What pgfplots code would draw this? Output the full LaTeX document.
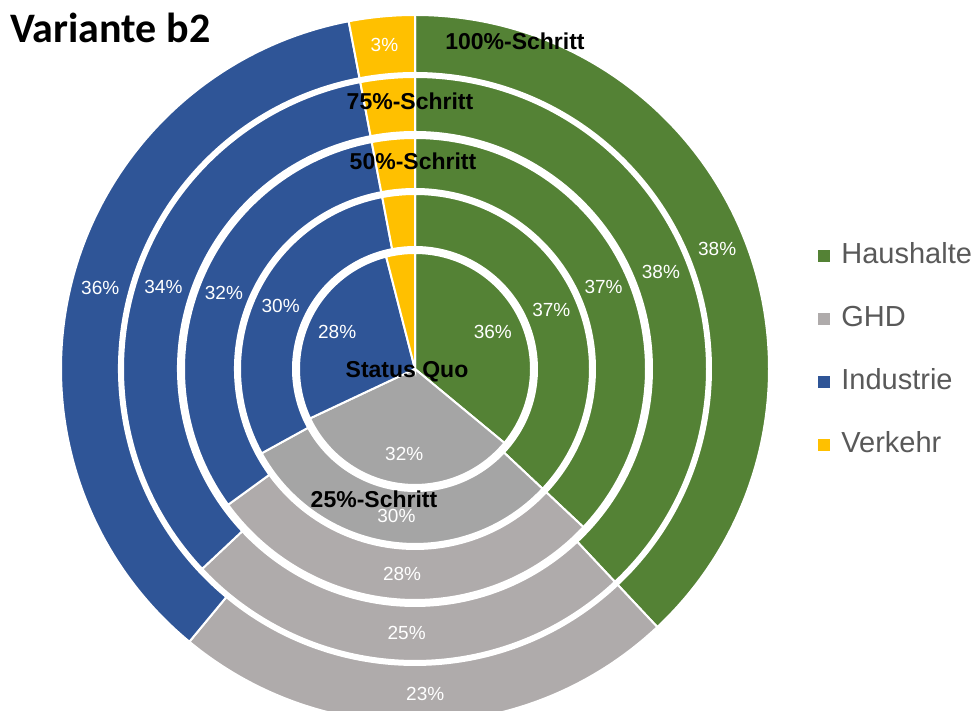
\documentclass[border=0pt]{standalone}
\usepackage{pgfplots}
\usepackage{pgfplotstable}
\pgfplotsset{compat=1.18}
\usepackage{fontspec}
\setmainfont{Liberation Sans}
\newfontfamily\titlefont{Carlito}
\definecolor{colH}{HTML}{548235}
\definecolor{colG}{HTML}{AFABAB}
\definecolor{colGd}{HTML}{A5A5A5}
\definecolor{colI}{HTML}{2F5597}
\definecolor{colV}{HTML}{FFC000}
\definecolor{legtext}{HTML}{595959}

% shares in percent, one row per ring (inner to outer); radii in px
\pgfplotstableread{
ring Haushalte GHD Industrie Verkehr rin rout rlab
0 36 32 28 4 0 116 86
1 37 30 30 3 122 175 148.5
2 37 28 32 3 180 231 205.5
3 38 25 34 3 237 292 264.5
4 38 23 36 3 296 354 325
}\ringdata

\begin{document}
\begin{tikzpicture}
\begin{axis}[x=0.5pt, y=0.5pt, xmin=-415, xmax=561, ymin=-342, ymax=369,
  hide axis, clip=false,
  legend cell align=left,
  legend image code/.code={\fill[#1] (0pt,-3pt) rectangle (6pt,3pt);},
  legend style={draw=none, fill=none, inner sep=0pt, at={(axis cs:403,127)}, anchor=north west,
    font=\fontsize{14.5}{17}\selectfont, text=legtext, row sep=18pt, column sep=5.5pt,
    nodes={inner sep=0pt, text height=10.5pt, text depth=3pt}},
]
\addlegendimage{fill=colH, draw=none}\addlegendentry{Haushalte}
\addlegendimage{fill=colG, draw=none}\addlegendentry{GHD}
\addlegendimage{fill=colI, draw=none}\addlegendentry{Industrie}
\addlegendimage{fill=colV, draw=none}\addlegendentry{Verkehr}

\pgfplotsextra{
\foreach \i in {0,...,4}{
  \pgfplotstablegetelem{\i}{rin}\of\ringdata \let\rin\pgfplotsretval
  \pgfplotstablegetelem{\i}{rout}\of\ringdata \let\rout\pgfplotsretval
  \pgfplotstablegetelem{\i}{rlab}\of\ringdata \let\rlab\pgfplotsretval
  \gdef\cum{0}
  \foreach \c/\col/\j in {Haushalte/colH/0, GHD/colG/1, Industrie/colI/2, Verkehr/colV/3}{
    \pgfplotstablegetelem{\i}{\c}\of\ringdata \let\val\pgfplotsretval
    \def\fc{\col}
    \ifnum\i<2 \ifnum\j=1 \def\fc{colGd}\fi\fi
    \pgfmathsetmacro\aS{90-3.6*\cum}
    \pgfmathsetmacro\aE{90-3.6*(\cum+\val)}
    \pgfmathsetmacro\aM{90-3.6*(\cum+\val/2)}
    \pgfmathsetmacro\xa{\rout*cos(\aS)}
    \pgfmathsetmacro\ya{\rout*sin(\aS)}
    \pgfmathsetmacro\xb{\rin*cos(\aE)}
    \pgfmathsetmacro\yb{\rin*sin(\aE)}
    \pgfmathsetmacro\Ro{\rout*0.5}
    \pgfmathsetmacro\Ri{\rin*0.5}
    \pgfmathsetmacro\xl{\rlab*cos(\aM)}
    \pgfmathsetmacro\yl{\rlab*sin(\aM)}
    \ifnum\i=0
      \fill[\fc, draw=white, line width=1pt] (axis cs:\xa,\ya) arc[start angle=\aS, end angle=\aE, radius=\Ro pt] -- (axis cs:0,0) -- cycle;
    \else
      \fill[\fc, draw=white, line width=1pt] (axis cs:\xa,\ya) arc[start angle=\aS, end angle=\aE, radius=\Ro pt] -- (axis cs:\xb,\yb) arc[start angle=\aE, end angle=\aS, radius=\Ri pt] -- cycle;
    \fi
    \def\showlab{1}
    \ifnum\j=3 \ifnum\i<4 \def\showlab{0}\fi\fi
    \if1\showlab
      \node[text=white, font=\fontsize{9.5}{11}\selectfont, inner sep=0pt] at (axis cs:\xl,\yl) {\val\%};
    \fi
    \pgfmathsetmacro\tmp{\cum+\val}\xdef\cum{\tmp}
  }
}
}

\node[anchor=base, inner sep=0pt, font=\bfseries\fontsize{11.5}{14}\selectfont] at (axis cs:-8,-9) {Status Quo};
\node[anchor=base, inner sep=0pt, font=\bfseries\fontsize{11.5}{14}\selectfont] at (axis cs:-41,-139) {25\%-Schritt};
\node[anchor=base, inner sep=0pt, font=\bfseries\fontsize{11.5}{14}\selectfont] at (axis cs:-2,199) {50\%-Schritt};
\node[anchor=base, inner sep=0pt, font=\bfseries\fontsize{11.5}{14}\selectfont] at (axis cs:-5,259) {75\%-Schritt};
\node[anchor=base, inner sep=0pt, font=\bfseries\fontsize{11.5}{14}\selectfont] at (axis cs:100,319) {100\%-Schritt};
\node[anchor=base west, inner sep=0pt, font=\fontsize{21}{25}\selectfont\titlefont\bfseries] at (axis cs:-405,326) {Variante b2};
\coordinate (bbSW) at (rel axis cs:0,0);
\coordinate (bbNE) at (rel axis cs:1,1);
\end{axis}
\pgfresetboundingbox
\path[use as bounding box] (bbSW) rectangle (bbNE);
\end{tikzpicture}
\end{document}
